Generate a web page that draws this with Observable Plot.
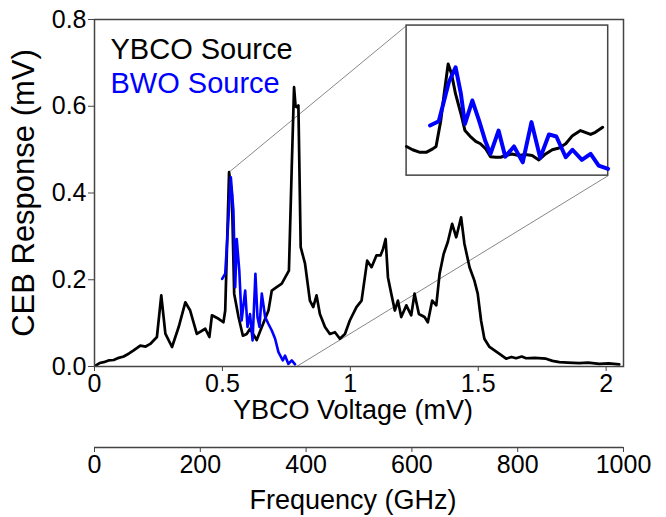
<!DOCTYPE html>
<html><head><meta charset="utf-8">
<script src="https://cdn.jsdelivr.net/npm/d3@7"></script>
<script src="https://cdn.jsdelivr.net/npm/@observablehq/plot@0.6"></script>
<style>
body{margin:0;background:#fff;}
#wrap{position:relative;width:666px;height:517px;}
#wrap svg{display:block;}
</style></head><body><div id="wrap"></div>
<script>
// ---- data ----
const ybcoV = [0.004,0.020,0.036,0.055,0.075,0.095,0.114,0.135,0.153,0.179,0.200,0.218,0.244,0.261,0.277,0.303,0.329,0.355,0.374,0.400,0.433,0.449,0.459,0.485,0.504,0.511,0.526,0.537,0.546,0.563,0.580,0.595,0.608,0.634,0.654,0.680,0.693,0.712,0.732,0.760,0.771,0.780,0.786,0.790,0.797,0.806,0.823,0.842,0.855,0.868,0.881,0.901,0.920,0.940,0.959,0.979,0.998,1.024,1.044,1.066,1.083,1.102,1.118,1.128,1.138,1.147,1.160,1.174,1.186,1.199,1.219,1.238,1.251,1.268,1.290,1.303,1.320,1.336,1.349,1.365,1.381,1.398,1.414,1.433,1.446,1.466,1.485,1.498,1.511,1.524,1.544,1.583,1.609,1.630,1.648,1.670,1.687,1.720,1.765,1.790,1.817,1.850,1.895,1.930,1.973,2.010,2.051];
const ybcoR = [0.002,0.008,0.010,0.014,0.015,0.020,0.023,0.030,0.037,0.048,0.046,0.052,0.068,0.164,0.076,0.045,0.091,0.148,0.129,0.075,0.087,0.068,0.118,0.110,0.102,0.129,0.448,0.398,0.168,0.114,0.071,0.075,0.087,0.061,0.091,0.129,0.175,0.183,0.191,0.221,0.459,0.644,0.600,0.598,0.602,0.275,0.237,0.152,0.137,0.164,0.121,0.091,0.075,0.079,0.064,0.075,0.106,0.137,0.152,0.244,0.229,0.256,0.256,0.271,0.294,0.206,0.168,0.129,0.152,0.114,0.141,0.118,0.168,0.121,0.114,0.102,0.152,0.141,0.214,0.260,0.287,0.329,0.298,0.344,0.283,0.229,0.198,0.168,0.106,0.064,0.045,0.029,0.018,0.022,0.019,0.023,0.019,0.020,0.018,0.013,0.010,0.009,0.008,0.009,0.006,0.007,0.005];
const bwoV = [0.499,0.511,0.533,0.543,0.550,0.556,0.566,0.575,0.589,0.598,0.608,0.618,0.629,0.637,0.645,0.654,0.667,0.680,0.693,0.706,0.719,0.736,0.745,0.758,0.771,0.784];
const bwoR = [0.202,0.214,0.436,0.360,0.183,0.294,0.221,0.106,0.175,0.091,0.121,0.060,0.214,0.114,0.091,0.168,0.114,0.098,0.083,0.064,0.033,0.014,0.025,0.006,0.014,0.005];
// inset (zoom of the 0.46 - 0.76 mV region)
const insetYbcoV = [0.460,0.469,0.479,0.490,0.499,0.504,0.511,0.516,0.522,0.527,0.533,0.541,0.547,0.556,0.563,0.570,0.578,0.585,0.593,0.600,0.608,0.617,0.627,0.637,0.647,0.657,0.667,0.677,0.687,0.697,0.707,0.719,0.726,0.734,0.741,0.752];
const insetYbcoR = [0.097,0.086,0.078,0.078,0.089,0.097,0.183,0.272,0.372,0.339,0.272,0.206,0.150,0.128,0.114,0.106,0.089,0.063,0.061,0.061,0.067,0.072,0.067,0.070,0.067,0.052,0.072,0.086,0.092,0.106,0.133,0.150,0.144,0.137,0.144,0.161];
const insetBwoV = [0.495,0.508,0.516,0.523,0.533,0.541,0.547,0.558,0.568,0.577,0.585,0.597,0.607,0.620,0.633,0.646,0.659,0.672,0.683,0.697,0.707,0.721,0.734,0.746,0.760];
const insetBwoR = [0.167,0.181,0.250,0.311,0.361,0.272,0.172,0.250,0.183,0.117,0.072,0.150,0.063,0.097,0.044,0.178,0.059,0.137,0.130,0.061,0.086,0.052,0.072,0.033,0.022];
const insetXDomain = [0.46, 0.76];
const insetYDomain = [0, 0.5];

const seriesNames = ["YBCO Source", "BWO Source"];
const seriesColors = ["#000000", "#0000ff"];
const xTicks = [0, 0.5, 1, 1.5, 2];
const yTicks = [0, 0.2, 0.4, 0.6, 0.8];
const freqTicks = [0, 200, 400, 600, 800, 1000];
const GHZ_PER_MV = 483.6;
const xTitle = "YBCO Voltage (mV)";
const yTitle = "CEB Response (mV)";
const fTitle = "Frequency (GHz)";
// inset placement (in main-chart data units) and zoom-line origins
const insetBox = {x1: 1.22, x2: 2.008, y1: 0.44, y2: 0.786};
const zoomOrigins = [[0.526, 0.448], [0.79, 0.0]];

// ---- build ----
(function () {
const FONT = '"Liberation Sans", Arial, Helvetica, sans-serif';
const xMax = 1000 / GHZ_PER_MV;
const ybco = ybcoV.map((v, i) => ({v, r: ybcoR[i]}));
const bwo = bwoV.map((v, i) => ({v, r: bwoR[i]}));
const insetYbco = insetYbcoV.map((v, i) => ({v, r: insetYbcoR[i]}));
const insetBwo = insetBwoV.map((v, i) => ({v, r: insetBwoR[i]}));
const links = [
  {x1: zoomOrigins[0][0], y1: zoomOrigins[0][1], x2: insetBox.x1, y2: insetBox.y2},
  {x1: zoomOrigins[1][0], y1: zoomOrigins[1][1], x2: insetBox.x2, y2: insetBox.y1}
];

const wrap = document.getElementById("wrap");

const main = Plot.plot({
  width: 666, height: 430,
  marginLeft: 94, marginRight: 43, marginTop: 19, marginBottom: 64,
  style: {fontFamily: FONT, fontSize: "25px", color: "#000", background: "transparent", overflow: "visible"},
  x: {domain: [0, xMax]},
  y: {domain: [0, 0.8]},
  marks: [
    Plot.axisX(xTicks, {tickSize: 5, tickPadding: 3, tickFormat: d => String(d), label: null, stroke: "#444"}),
    Plot.axisY(yTicks, {tickSize: 6, tickPadding: 2, tickFormat: d => d.toFixed(1), label: null, stroke: "#444"}),
    Plot.link(links, {x1: "x1", y1: "y1", x2: "x2", y2: "y2", stroke: "#888", strokeWidth: 1}),
    Plot.rect([insetBox], {x1: "x1", x2: "x2", y1: "y1", y2: "y2", fill: "white", stroke: "#444", strokeWidth: 1.5}),
    Plot.line(ybco, {x: "v", y: "r", stroke: seriesColors[0], strokeWidth: 2.7}),
    Plot.line(bwo, {x: "v", y: "r", stroke: seriesColors[1], strokeWidth: 2.6}),
    Plot.frame({stroke: "#444", strokeWidth: 1.5}),
    ...seriesNames.map((n, i) => Plot.text([n], {frameAnchor: "top-left", dx: 16, dy: 30 + i * 34, fill: seriesColors[i], textAnchor: "start", lineAnchor: "middle", fontSize: 29})),
    Plot.text([xTitle], {frameAnchor: "bottom", dx: -6, dy: 44, lineAnchor: "middle", fontSize: 27}),
    Plot.text([yTitle], {frameAnchor: "left", rotate: -90, dx: -70, textAnchor: "middle", lineAnchor: "middle", fontSize: 31})
  ]
});
wrap.appendChild(main);

const freq = Plot.plot({
  width: 666, height: 87,
  marginLeft: 94, marginRight: 43, marginTop: 0, marginBottom: 70,
  style: {fontFamily: FONT, fontSize: "25px", color: "#000", background: "transparent", overflow: "visible"},
  x: {domain: [0, 1000]},
  y: {domain: [0, 1], axis: null},
  marks: [
    Plot.ruleY([0], {stroke: "#444", strokeWidth: 1.5}),
    Plot.axisX(freqTicks, {tickSize: 5, tickPadding: 3, tickFormat: d => String(d), label: null, stroke: "#444"}),
    Plot.text([fTitle], {frameAnchor: "bottom", dx: -6, dy: 53, lineAnchor: "middle", fontSize: 27})
  ]
});
wrap.appendChild(freq);

const sx = main.scale("x"), sy = main.scale("y");
const boxLeft = sx.apply(insetBox.x1), boxRight = sx.apply(insetBox.x2);
const boxTop = sy.apply(insetBox.y2), boxBottom = sy.apply(insetBox.y1);
const inset = Plot.plot({
  width: boxRight - boxLeft, height: boxBottom - boxTop, margin: 0,
  style: {background: "transparent", overflow: "visible"},
  x: {domain: insetXDomain, axis: null},
  y: {domain: insetYDomain, axis: null},
  marks: [
    Plot.line(insetYbco, {x: "v", y: "r", stroke: seriesColors[0], strokeWidth: 3}),
    Plot.line(insetBwo, {x: "v", y: "r", stroke: seriesColors[1], strokeWidth: 4})
  ]
});
inset.style.position = "absolute";
inset.style.left = boxLeft + "px";
inset.style.top = boxTop + "px";
wrap.appendChild(inset);
})();
</script></body></html>
